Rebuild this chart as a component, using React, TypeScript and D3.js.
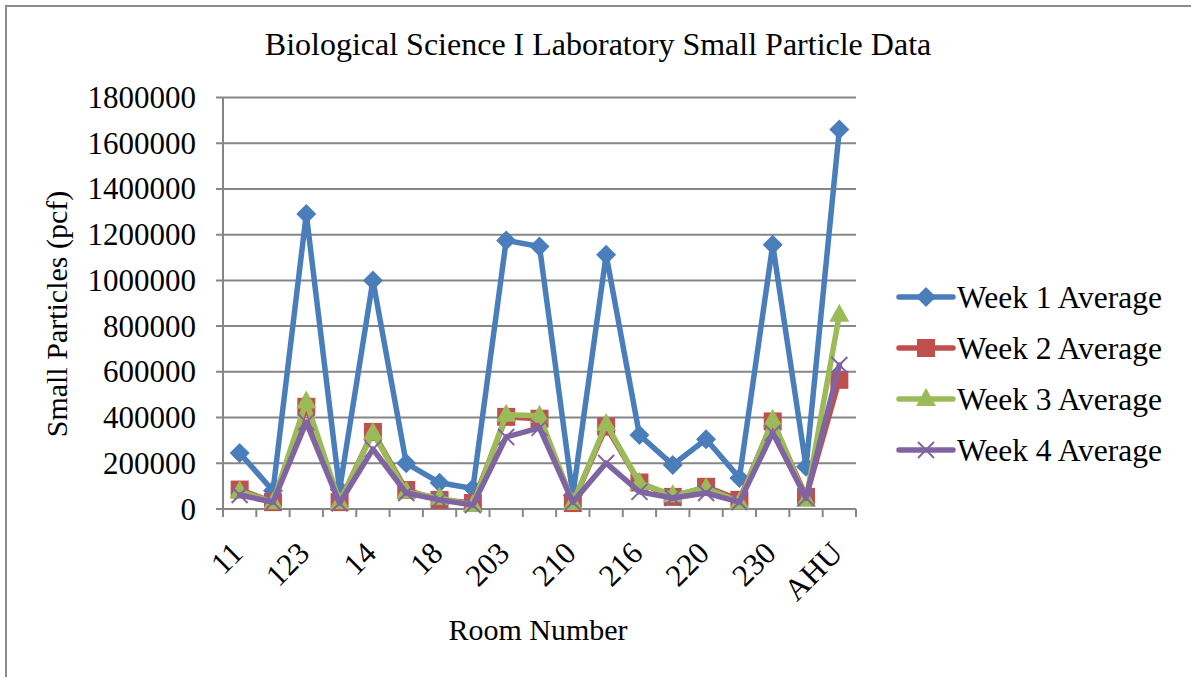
import React from "react";
import * as d3 from "d3";

const categories = ["11", "12", "123", "13", "14", "15", "18", "19", "203", "205", "210", "212", "216", "218", "220", "224", "230", "232", "AHU"];
const week1 = [245000, 80000, 1290000, 85000, 1000000, 200000, 115000, 90000, 1175000, 1148000, 60000, 1112000, 324000, 193000, 305000, 136000, 1156000, 185000, 1660000];
const week2 = [85000, 30000, 447000, 30000, 337000, 83000, 40000, 26000, 403000, 395000, 26000, 360000, 116000, 53000, 97000, 40000, 383000, 53000, 565000];
const week3 = [78000, 30000, 470000, 30000, 333000, 75000, 48000, 17000, 412000, 408000, 26000, 372000, 114000, 60000, 92000, 30000, 390000, 40000, 850000];
const week4 = [61000, 30000, 380000, 25000, 262000, 70000, 40000, 17000, 315000, 355000, 30000, 201000, 75000, 48000, 70000, 30000, 333000, 48000, 630000];
const seriesNames = ["Week 1 Average", "Week 2 Average", "Week 3 Average", "Week 4 Average"];
const seriesColors = ["#4A7EBB", "#C0504D", "#9BBB59", "#8064A2"];
const markerTypes = ["diamond", "square", "triangle", "x"];
const yTicks = [0, 200000, 400000, 600000, 800000, 1000000, 1200000, 1400000, 1600000, 1800000];

const W = 1191, H = 677;
const L = 223, R = 856, T = 97.5, B = 509;
const FONT = "'Liberation Serif', 'Times New Roman', serif";

function Marker({ type, x, y, color }: { type: string; x: number; y: number; color: string }) {
  if (type === "diamond") {
    return <path d={`M${x},${y - 10}L${x + 10},${y}L${x},${y + 10}L${x - 10},${y}Z`} fill={color} />;
  }
  if (type === "square") {
    return <rect x={x - 9} y={y - 9} width={18} height={18} fill={color} />;
  }
  if (type === "triangle") {
    return <path d={`M${x},${y - 11}L${x + 10},${y + 7}L${x - 10},${y + 7}Z`} fill={color} />;
  }
  return (
    <g stroke={color} strokeWidth={2}>
      <line x1={x - 8} y1={y - 8} x2={x + 8} y2={y + 8} />
      <line x1={x - 8} y1={y + 8} x2={x + 8} y2={y - 8} />
    </g>
  );
}

export default function App() {
  const series = [week1, week2, week3, week4];
  const x = d3.scaleBand().domain(categories).range([L, R]).padding(0);
  const y = d3.scaleLinear().domain([0, 1800000]).range([B, T]);
  const cx = (c: string) => (x(c) as number) + x.bandwidth() / 2;
  const line = d3
    .line<number>()
    .x((_, i) => cx(categories[i]))
    .y((d) => y(d));
  const tickXs = d3.range(categories.length + 1).map((i) => L + i * x.bandwidth());
  const legendYs = [297, 348, 399, 450];

  return (
    <svg width={W} height={H} style={{ position: "fixed", left: 0, top: 0, background: "#fff" }} fontFamily={FONT}>
      <rect x={0} y={0} width={W} height={H} fill="#fff" />
      <rect x={6} y={6} width={W + 20} height={H + 20} fill="none" stroke="#8c8c8c" strokeWidth={2} />
      <text x={598} y={55} textAnchor="middle" fontSize={32}>
        Biological Science I Laboratory Small Particle Data
      </text>
      {yTicks.map((t) => (
        <line key={t} x1={L - 7} x2={R} y1={y(t)} y2={y(t)} stroke="#868686" strokeWidth={2} />
      ))}
      <line x1={L} x2={L} y1={T} y2={B} stroke="#868686" strokeWidth={2} />
      {yTicks.map((t) => (
        <text key={"l" + t} x={196} y={y(t)} dy="0.34em" textAnchor="end" fontSize={31}>
          {t}
        </text>
      ))}
      {tickXs.map((tx, i) => (
        <line key={"t" + i} x1={tx} x2={tx} y1={B} y2={B + 8} stroke="#868686" strokeWidth={2} />
      ))}
      {categories.map((c, i) =>
        i % 2 === 0 ? (
          <text key={"c" + c} transform={`translate(${cx(c) + 5},${555}) rotate(-45)`} textAnchor="end" fontSize={31}>
            {c}
          </text>
        ) : null
      )}
      <text x={538} y={640} textAnchor="middle" fontSize={30}>
        Room Number
      </text>
      <text transform={`translate(67,314) rotate(-90)`} textAnchor="middle" fontSize={30}>
        Small Particles (pcf)
      </text>
      {series.map((s, si) => (
        <g key={"s" + si}>
          <path d={line(s) as string} fill="none" stroke={seriesColors[si]} strokeWidth={5.5} strokeLinejoin="round" strokeLinecap="round" />
          {s.map((v, i) => (
            <Marker key={i} type={markerTypes[si]} x={cx(categories[i])} y={y(v)} color={seriesColors[si]} />
          ))}
        </g>
      ))}
      {seriesNames.map((n, si) => (
        <g key={"lg" + si}>
          <line x1={899} x2={953} y1={legendYs[si]} y2={legendYs[si]} stroke={seriesColors[si]} strokeWidth={5.5} strokeLinecap="round" />
          <Marker type={markerTypes[si]} x={926} y={legendYs[si]} color={seriesColors[si]} />
          <text x={957} y={legendYs[si]} dy="0.34em" fontSize={31.5}>
            {n}
          </text>
        </g>
      ))}
    </svg>
  );
}
